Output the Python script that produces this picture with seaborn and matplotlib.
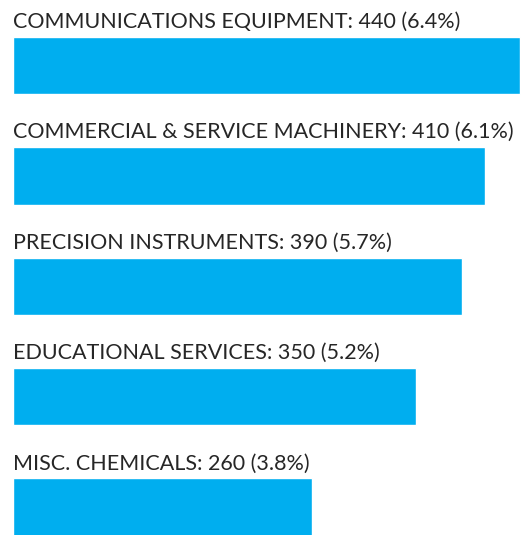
import matplotlib
matplotlib.use("Agg")
import matplotlib.pyplot as plt
import seaborn as sns
import pandas as pd

# Data
categories = ["COMMUNICATIONS EQUIPMENT", "COMMERCIAL & SERVICE MACHINERY",
              "PRECISION INSTRUMENTS", "EDUCATIONAL SERVICES", "MISC. CHEMICALS"]
values = [440, 410, 390, 350, 260]
shares = [6.4, 6.1, 5.7, 5.2, 3.8]

df = pd.DataFrame({"category": categories, "value": values})

sns.set_style("white")
plt.rcParams['font.family'] = ['Lato', 'DejaVu Sans']

fig = plt.figure(figsize=(5.22, 5.35), dpi=100)
ax = fig.add_axes([13 / 522, 0, 509 / 522, 1])

sns.barplot(data=df, x="value", y="category", orient="h", color="#00AEEF",
            saturation=1, width=0.52, ax=ax)

# label above each bar
for i, (cat, v, s) in enumerate(zip(categories, values, shares)):
    ax.text(0, i - 0.34, f"{cat}: {v} ({s}%)", ha="left", va="baseline",
            fontsize=15.5, color="#262626")

ax.set_xlim(0, 442)
ax.set_ylim(4.253, -0.593)
ax.set_axis_off()

plt.savefig("out.png", dpi=100)
